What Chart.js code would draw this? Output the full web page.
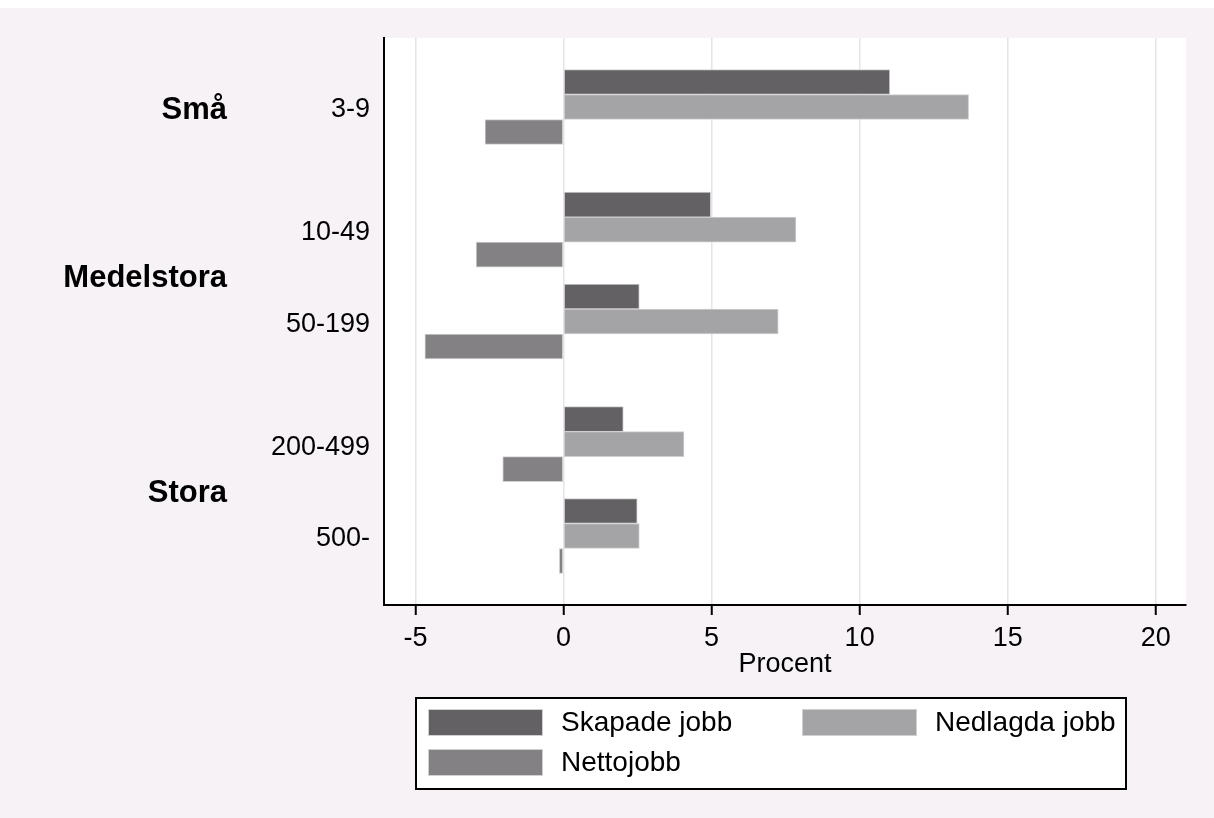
<!DOCTYPE html>
<html>
<head>
<meta charset="utf-8">
<script src="https://cdn.jsdelivr.net/npm/chart.js@4.4.1/dist/chart.umd.min.js"></script>
<style>
  html, body { margin: 0; padding: 0; background: #ffffff; }
  #wrap { width: 1214px; height: 818px; }
</style>
</head>
<body>
<div id="wrap"><canvas id="c" width="1214" height="818"></canvas></div>
<script>
// ---- data ----
const categories = ['3-9', '10-49', '50-199', '200-499', '500-'];
const groupNames = ['Små', 'Medelstora', 'Stora'];
const groupOfCategory = [0, 1, 1, 2, 2];
const seriesNames = ['Skapade jobb', 'Nedlagda jobb', 'Nettojobb'];
const skapade = [11.02, 4.97, 2.56, 2.02, 2.49];
const nedlagda = [13.68, 7.85, 7.25, 4.07, 2.56];
const netto = [-2.65, -2.95, -4.68, -2.05, -0.14];
const xTickValues = [-5, 0, 5, 10, 15, 20];

// ---- layout (spacing of category slots, Stata-like group gaps) ----
const slotsBefore = 4, slotsWithin = 6, slotsBetween = 8, slotsAfter = 4;
const slotIndex = [];
let s = slotsBefore;
categories.forEach((c, i) => {
  if (i > 0) s += (groupOfCategory[i] === groupOfCategory[i - 1]) ? slotsWithin : slotsBetween;
  slotIndex.push(s);
});
const nSlots = slotIndex[slotIndex.length - 1] + 1 + slotsAfter;
const slotLabels = new Array(nSlots).fill('');
slotIndex.forEach((k, i) => { slotLabels[k] = categories[i]; });
function spread(values) {
  const arr = new Array(nSlots).fill(null);
  slotIndex.forEach((k, i) => { arr[k] = values[i]; });
  return arr;
}

const colors = ['#636164', '#a4a3a5', '#838184'];
const FONT = 'Liberation Sans, Arial, sans-serif';

const bgPlugin = {
  id: 'bg',
  beforeDraw(chart) {
    const { ctx, chartArea } = chart;
    ctx.save();
    ctx.fillStyle = '#ffffff';
    ctx.fillRect(0, 0, chart.width, chart.height);
    ctx.fillStyle = '#f6f2f6';
    ctx.fillRect(0, 8, chart.width, chart.height - 8);
    ctx.fillStyle = '#ffffff';
    ctx.fillRect(chartArea.left, chartArea.top, chartArea.right - chartArea.left, chartArea.bottom - chartArea.top);
    ctx.restore();
  }
};

const groupLabelPlugin = {
  id: 'groupLabels',
  afterDraw(chart) {
    const { ctx } = chart;
    const y = chart.scales.y;
    ctx.save();
    ctx.font = 'bold 31px ' + FONT;
    ctx.fillStyle = '#000000';
    ctx.textAlign = 'right';
    ctx.textBaseline = 'middle';
    groupNames.forEach((g, gi) => {
      const px = [];
      groupOfCategory.forEach((go, i) => { if (go === gi) px.push(y.getPixelForValue(slotIndex[i])); });
      const mean = px.reduce((a, b) => a + b, 0) / px.length;
      ctx.fillText(g, 227, mean + 3);
    });
    ctx.restore();
  }
};

const legendBoxPlugin = {
  id: 'legendBox',
  afterDraw(chart) {
    const { ctx } = chart;
    const box = { x: 416, y: 698, w: 710, h: 91 };
    const items = [{ x: 428, y: 709 }, { x: 802, y: 709 }, { x: 428, y: 749 }];
    const sw = 115, sh = 27, textOff = 133;
    ctx.save();
    ctx.fillStyle = '#ffffff';
    ctx.fillRect(box.x, box.y, box.w, box.h);
    ctx.strokeStyle = '#000000';
    ctx.lineWidth = 2;
    ctx.strokeRect(box.x, box.y, box.w, box.h);
    ctx.font = '28px ' + FONT;
    ctx.textAlign = 'left';
    ctx.textBaseline = 'middle';
    chart.data.datasets.forEach((ds, i) => {
      const it = items[i];
      ctx.fillStyle = ds.backgroundColor;
      ctx.fillRect(it.x, it.y, sw, sh);
      ctx.strokeStyle = '#d0cfd1';
      ctx.lineWidth = 1;
      ctx.strokeRect(it.x + 0.5, it.y + 0.5, sw - 1, sh - 1);
      ctx.fillStyle = '#000000';
      ctx.fillText(ds.label, it.x + textOff, it.y + sh / 2 + 1);
    });
    ctx.restore();
  }
};

const seriesValues = [skapade, nedlagda, netto];
new Chart(document.getElementById('c'), {
  type: 'bar',
  data: {
    labels: slotLabels,
    datasets: seriesNames.map((n, i) => ({
      label: n,
      data: spread(seriesValues[i]),
      backgroundColor: colors[i],
      borderColor: '#d0cfd1',
      borderWidth: 1,
      borderSkipped: false,
      barThickness: 25
    }))
  },
  options: {
    indexAxis: 'y',
    responsive: false,
    animation: false,
    devicePixelRatio: 1,
    layout: { padding: { left: 0, right: 28, top: 38, bottom: 137 } },
    plugins: {
      legend: { display: false },
      tooltip: { enabled: false }
    },
    scales: {
      y: {
        type: 'category',
        offset: true,
        grid: { display: false, drawTicks: false },
        border: { display: true, color: '#000000', width: 2 },
        ticks: {
          autoSkip: false,
          padding: 14,
          labelOffset: 3,
          color: '#000000',
          font: { family: FONT, size: 27 }
        },
        afterFit(scale) { scale.width = 384; }
      },
      x: {
        type: 'linear',
        min: -6.06,
        max: 21.02,
        afterBuildTicks(scale) { scale.ticks = xTickValues.map(v => ({ value: v })); },
        grid: {
          color: '#e6e4e6',
          lineWidth: 1.5,
          drawTicks: true,
          tickLength: 10,
          tickColor: '#000000',
          tickWidth: 2
        },
        border: { display: true, color: '#000000', width: 2 },
        ticks: {
          padding: 7,
          color: '#000000',
          maxRotation: 0,
          font: { family: FONT, size: 27 },
          callback: (v) => String(v)
        },
        title: {
          display: true,
          text: 'Procent',
          color: '#000000',
          font: { family: FONT, size: 27 },
          padding: { top: 0, bottom: 0 }
        },
        afterFit(scale) { scale.height = 76; }
      }
    }
  },
  plugins: [bgPlugin, groupLabelPlugin, legendBoxPlugin]
});
</script>
</body>
</html>
